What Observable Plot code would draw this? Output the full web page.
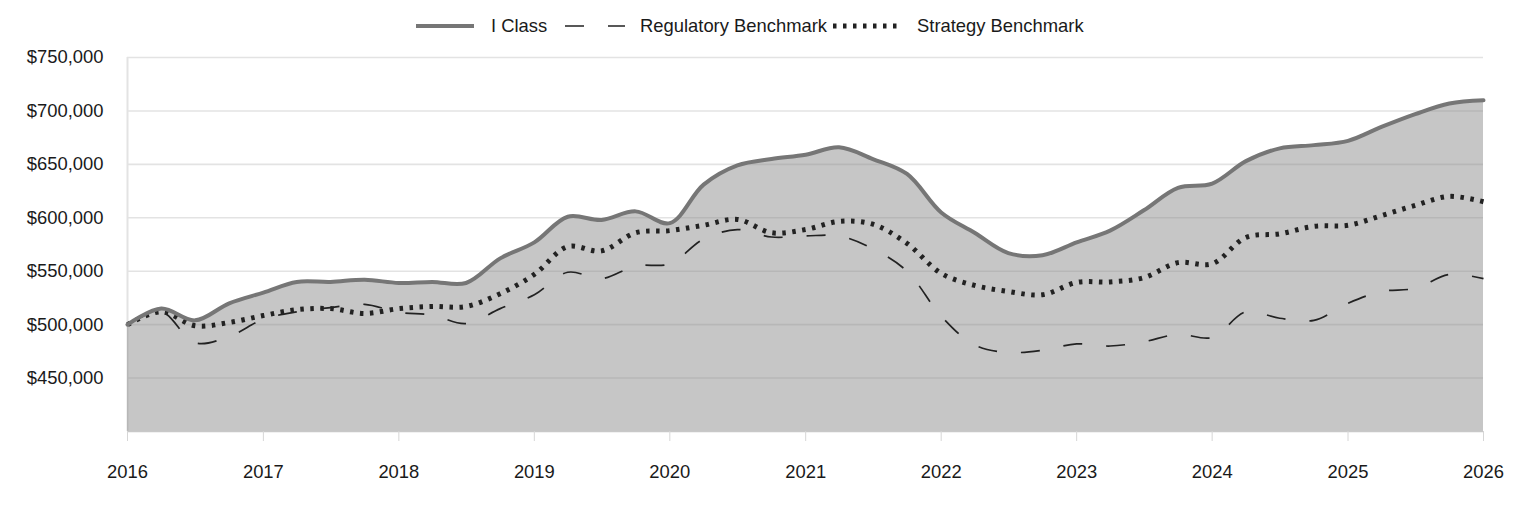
<!DOCTYPE html>
<html>
<head>
<meta charset="utf-8">
<script src="https://cdn.jsdelivr.net/npm/d3@7"></script>
<script src="https://cdn.jsdelivr.net/npm/@observablehq/plot@0.6"></script>
<style>
  body { margin: 0; background: #fff; font-family: "Liberation Sans", Arial, sans-serif; }
  #legend { display: block; }
  #chart svg { display: block; }
</style>
</head>
<body>
<svg id="legend" width="1524" height="44"></svg>
<div id="chart"></div>
<script>
// Quarter-end observation dates, 2016 through 2026
const dates = d3.utcMonth.every(3).range(new Date(Date.UTC(2016, 0, 1)), new Date(Date.UTC(2026, 0, 2)));

// Growth of a $500,000 investment (quarterly values)
const iClass = [500000, 515000, 504000, 520000, 530000, 540000, 540000, 542000, 539000, 540000,
  539000, 562000, 577000, 601000, 598000, 606000, 595000, 631000, 649000, 655000,
  659000, 666000, 655000, 641000, 605000, 586000, 567000, 565000, 577000, 588000,
  607000, 628000, 632000, 653000, 665000, 668000, 672000, 685000, 697000, 707000, 710000];

const regulatory = [500000, 512000, 483000, 489000, 505000, 512000, 516000, 519000, 511500, 509000,
  501000, 515000, 528000, 549000, 543000, 555000, 557000, 580000, 589000, 582000,
  583000, 583000, 571000, 550000, 508000, 481000, 474000, 476000, 482000, 480000,
  484000, 491000, 488000, 512000, 506000, 504000, 520000, 531000, 534000, 547000, 543000];

const strategy = [500000, 512000, 499000, 502000, 508500, 514000, 515000, 510500, 515000, 517000,
  517000, 529000, 547000, 573000, 569000, 586000, 588000, 593000, 598500, 586000,
  589000, 596600, 594000, 576000, 548000, 536700, 531000, 528000, 539500, 540000,
  544000, 558000, 557000, 581600, 585000, 592000, 593000, 602000, 611600, 620000, 615000];

const seriesNames = ["I Class", "Regulatory Benchmark", "Strategy Benchmark"];
const yTicks = [450000, 500000, 550000, 600000, 650000, 700000, 750000];
const yearTicks = d3.range(2016, 2027).map(y => new Date(Date.UTC(y, 0, 1)));

const rows = dates.map((d, i) => ({date: d, iClass: iClass[i], regulatory: regulatory[i], strategy: strategy[i]}));

// Line styles shared by the chart and its legend
const styles = [
  {stroke: "#767676", strokeWidth: 4, dash: null},
  {stroke: "#222", strokeWidth: 1.7, dash: "19 24"},
  {stroke: "#222", strokeWidth: 5, dash: "3.5 6.5"}
];

// Legend row
const legend = d3.select("#legend");
const legendItems = [
  {x1: 416, x2: 474, tx: 491},
  {x1: 565, x2: 625, tx: 640},
  {x1: 833, x2: 898, tx: 917}
];
legendItems.forEach((it, i) => {
  const s = styles[i];
  legend.append("line")
    .attr("x1", it.x1).attr("x2", it.x2).attr("y1", 26).attr("y2", 26)
    .attr("stroke", s.stroke).attr("stroke-width", s.strokeWidth)
    .attr("stroke-dasharray", s.dash);
  legend.append("text")
    .attr("x", it.tx).attr("y", 26).attr("dy", "0.35em")
    .attr("font-size", 18.4).attr("fill", "#1a1a1a")
    .text(seriesNames[i]);
});

const curve = "catmull-rom";

const chart = Plot.plot({
  width: 1524,
  height: 472,
  marginLeft: 127,
  marginRight: 41,
  marginTop: 13,
  marginBottom: 85,
  style: {fontFamily: "'Liberation Sans', Arial, sans-serif", fontSize: "18.4px", color: "#1a1a1a", background: "#fff"},
  x: {type: "utc", domain: [dates[0], dates[dates.length - 1]], label: null},
  y: {domain: [400000, 750000], label: null},
  marks: [
    Plot.gridY(yTicks, {stroke: "#e3e3e3", strokeOpacity: 1, strokeWidth: 1.6}),
    Plot.ruleX([dates[0]], {stroke: "#e3e3e3", strokeWidth: 2}),
    Plot.areaY(rows, {x: "date", y1: 400000, y2: "iClass", curve, fill: "#888", fillOpacity: 0.48}),
    Plot.ruleY([400000], {stroke: "#c8c8c8", strokeWidth: 1.5}),
    Plot.lineY(rows, {x: "date", y: "regulatory", curve, stroke: styles[1].stroke, strokeWidth: styles[1].strokeWidth, strokeDasharray: styles[1].dash, strokeLinecap: "butt"}),
    Plot.lineY(rows, {x: "date", y: "strategy", curve, stroke: styles[2].stroke, strokeWidth: styles[2].strokeWidth, strokeDasharray: styles[2].dash, strokeLinecap: "butt"}),
    Plot.lineY(rows, {x: "date", y: "iClass", curve, stroke: styles[0].stroke, strokeWidth: styles[0].strokeWidth}),
    Plot.axisY({ticks: yTicks, tickSize: 0, tickPadding: 24, tickFormat: d3.format("$,"), fill: "#1a1a1a"}),
    Plot.axisX({ticks: yearTicks, tickSize: 10, tickPadding: 23, tickFormat: d3.utcFormat("%Y"), stroke: "#d6d6d6", fill: "#1a1a1a"})
  ]
});

document.getElementById("chart").appendChild(chart);
</script>
</body>
</html>
